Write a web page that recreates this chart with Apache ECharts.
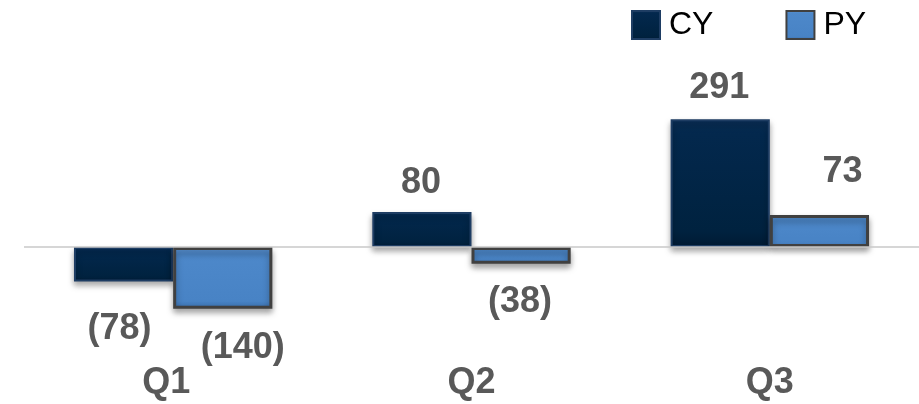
<!DOCTYPE html>
<html><head><meta charset="utf-8">
<script src="https://cdn.jsdelivr.net/npm/echarts@6/dist/echarts.min.js"></script>
<style>html,body{margin:0;padding:0;background:#fff}#c{width:919px;height:404px}</style>
</head><body><div id="c"></div>
<script>
const categories = ['Q1', 'Q2', 'Q3'];
const seriesNames = ['CY', 'PY'];
const cyValues = [-78, 80, 291];
const pyValues = [-140, -38, 73];

// label nudges (styling only)
const cyLabelNudge = [{d: 30, x: -4}, {d: 11, x: -1}, {d: 13, x: -1}];
const pyLabelNudge = [{d: 21, x: 20}, {d: 20, x: -1}, {d: 25, x: 23}];
const catLabelShift = [14, 0, 0];

const fmt = v => v < 0 ? '(' + Math.abs(v) + ')' : String(v);

function buildData(values, nudges) {
  return values.map((v, i) => ({
    value: v,
    label: {
      position: v < 0 ? 'bottom' : 'top',
      distance: nudges[i].d,
      offset: [nudges[i].x, 0]
    }
  }));
}

const labelStyle = {
  show: true,
  formatter: p => fmt(p.value),
  fontFamily: 'Liberation Sans',
  fontWeight: 'bold',
  fontSize: 36,
  color: '#595959'
};

const catFont = {fontFamily: 'Liberation Sans', fontWeight: 'bold', fontSize: 36, color: '#595959'};

const chart = echarts.init(document.getElementById('c'));
chart.setOption({
  animation: false,
  legend: {
    data: seriesNames,
    left: 631, top: 9, padding: 0,
    itemWidth: 28, itemHeight: 28, itemGap: 72,
    icon: 'rect',
    textStyle: {fontFamily: 'Liberation Sans', fontSize: 32, color: '#000', padding: [0, 0, 0, 4]}
  },
  grid: {left: 24, right: 0, top: 102, bottom: 47, containLabel: false},
  xAxis: {
    type: 'category',
    data: categories,
    axisLine: {show: false, onZero: false},
    axisTick: {show: false},
    axisLabel: Object.assign({}, catFont, {
      margin: 8,
      formatter: (v, i) => '{s' + i + '|' + v + '}',
      rich: {
        s0: Object.assign({}, catFont, {padding: [0, catLabelShift[0], 0, 0]}),
        s1: Object.assign({}, catFont, {padding: [0, catLabelShift[1], 0, 0]}),
        s2: Object.assign({}, catFont, {padding: [0, catLabelShift[2], 0, 0]})
      }
    })
  },
  yAxis: {
    type: 'value', min: -250, max: 330,
    show: false, splitLine: {show: false}
  },
  series: [
    {
      name: 'CY', type: 'bar', barGap: '0%', barCategoryGap: '33.5%',
      data: buildData(cyValues, cyLabelNudge),
      itemStyle: {
        color: {type: 'linear', x: 0, y: 0, x2: 0, y2: 1, colorStops: [
          {offset: 0, color: '#0a2e55'}, {offset: 0.12, color: '#03284d'},
          {offset: 0.88, color: '#00223f'}, {offset: 1, color: '#001a33'}]},
        borderColor: '#1e3d63', borderWidth: 2,
        shadowColor: 'rgba(0,0,0,0.35)', shadowBlur: 6, shadowOffsetY: 4
      },
      label: labelStyle,
      markLine: {
        silent: true, symbol: 'none', label: {show: false},
        lineStyle: {color: '#c8c8c8', width: 1.5, type: 'solid'},
        data: [{yAxis: 0}]
      }
    },
    {
      name: 'PY', type: 'bar',
      data: buildData(pyValues, pyLabelNudge),
      itemStyle: {
        color: {type: 'linear', x: 0, y: 0, x2: 0, y2: 1, colorStops: [
          {offset: 0, color: '#5b93d3'}, {offset: 0.12, color: '#4d88ca'},
          {offset: 0.88, color: '#4883c5'}, {offset: 1, color: '#3a6fae'}]},
        borderColor: '#404040', borderWidth: 3,
        shadowColor: 'rgba(0,0,0,0.35)', shadowBlur: 6, shadowOffsetY: 4
      },
      label: labelStyle
    }
  ]
});
</script></body></html>
